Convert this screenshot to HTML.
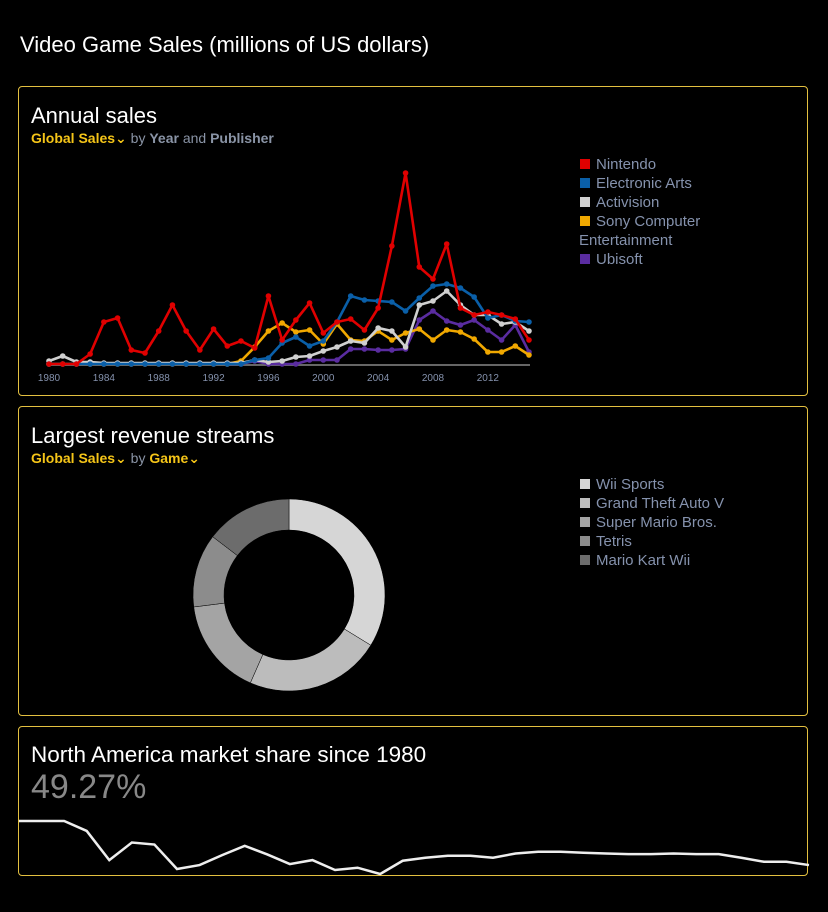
<!DOCTYPE html>
<html><head><meta charset="utf-8">
<style>
body{margin:0;background:#000;width:828px;height:912px;overflow:hidden;font-family:"Liberation Sans","DejaVu Sans",sans-serif;color:#fff;position:relative}
.title{position:absolute;left:20px;top:32px;font-size:22px}
.panel{position:absolute;left:18px;width:790px;border:1px solid #e3c040;border-radius:4px;box-sizing:border-box}
.h{position:absolute;left:12px;font-size:22px;color:#fff}
.sub{position:absolute;left:12px;font-size:14px;color:#8a94a6}
.sub b{color:#f5c518}
.sub i{font-style:normal;color:#8a94a6;font-weight:bold}
svg{position:absolute;left:0;top:0}
.leg text{font-size:15px;fill:#8592ad}
</style></head><body>
<div class="title">Video Game Sales (millions of US dollars)</div>

<div class="panel" style="top:86px;height:310px">
<div class="h" style="top:16px">Annual sales</div>
<div class="sub" style="top:43px"><b>Global Sales⌄</b> by <i>Year</i> and <i>Publisher</i></div>
</div>
<div class="panel" style="top:406px;height:310px">
<div class="h" style="top:16px">Largest revenue streams</div>
<div class="sub" style="top:43px"><b>Global Sales⌄</b> by <b>Game⌄</b></div>
</div>
<div class="panel" style="top:726px;height:150px;overflow:hidden">
<div class="h" style="top:15px;font-size:22.5px">North America market share since 1980</div>
<div style="position:absolute;left:12px;top:41px;font-size:34px;color:#888">49.27%</div>
</div>

<svg id="chart" width="828" height="912"></svg>
<script>
const years=[];for(let y=1980;y<=2015;y++)years.push(y);
const nintendo=[0,0,0,10,42,46,14,11,33,59,33,14,35,18,23,16,68,24,44,61,31,42,45,34,56,118,191,97,85,120,56,49,52,49,45,24];
const ea=[0,0,0,0,0,0,0,0,0,0,0,0,0,0,0,4,6,21,27,18,23,42,68,64,63,62,53,66,78,80,76,67,46,49,43,42];
const activision=[3,8,2,2,1,1,1,1,1,1,1,1,1,1,1,4,2,3,7,8,13,17,23,21,36,33,17,59,63,73,59,49,49,40,42,33];
const sony=[0,0,0,0,0,0,0,0,0,0,0,0,0,0,3,17,33,41,32,34,20,40,24,23,33,24,31,35,24,34,32,25,12,12,18,9];
const ubisoft=[0,0,0,0,0,0,0,0,0,0,0,0,0,0,0,3,0,0,0,4,4,4,15,15,14,14,15,44,53,43,39,44,34,24,39,12];
const seriesNames=["Nintendo","Electronic Arts","Activision","Sony Computer Entertainment","Ubisoft"];
const xTicks=[1980,1984,1988,1992,1996,2000,2004,2008,2012];
const games=["Wii Sports","Grand Theft Auto V","Super Mario Bros.","Tetris","Mario Kart Wii"];
const gameSales=[82.7,55.9,40.2,30.3,35.8];
const shareValues=[95,95,95,87.5,65.5,78.75,77.25,58.75,61.75,69.25,76.25,69.75,62.5,65.5,58,59.75,55,65,67.25,68.75,68.75,67.25,70.5,71.75,71.75,71,70.5,70,70,70.5,70,70,67.25,64.25,64.25,61.75];

const NS="http://www.w3.org/2000/svg",svg=document.getElementById('chart');
function mk(t,a,p){const e=document.createElementNS(NS,t);for(const k in a)e.setAttribute(k,a[k]);(p||svg).appendChild(e);return e;}
const xS=y=>49+(y-1980)*(529-49)/35, yS=v=>364-v;
mk('line',{x1:47,x2:530,y1:365,y2:365,stroke:'#666','stroke-width':2});
xTicks.forEach(t=>{const e=mk('text',{x:xS(t),y:381,'text-anchor':'middle','font-size':10,fill:'#8592ad'});e.textContent=t;

});
const data=[nintendo,ea,activision,sony,ubisoft],cols=['#e00000','#0a5fa8','#d0d0d0','#f0a800','#5a2ca0'];
[4,3,2,1,0].forEach(i=>{const g=mk('g',{});


mk('polyline',{points:data[i].map((v,j)=>xS(years[j])+','+yS(v)).join(' '),fill:'none',stroke:cols[i],'stroke-width':2.6,'stroke-linejoin':'round'},g);
data[i].forEach((v,j)=>mk('circle',{cx:xS(years[j]),cy:yS(v),r:2.8,fill:cols[i]},g));});
const leg=mk('g',{class:'leg'});


const legLines=[["Nintendo",0],["Electronic Arts",1],["Activision",2],["Sony Computer",3],["Entertainment",-1],["Ubisoft",4]];
legLines.forEach((l,k)=>{const y=169+k*19;if(l[1]>=0)mk('rect',{x:580,y:y-10,width:10,height:10,fill:cols[l[1]]},leg);
const t=mk('text',{x:l[1]>=0?596:579,y:y},leg);t.textContent=l[0];});
const cx=289,cy=595,R=96,r=65,tot=gameSales.reduce((a,b)=>a+b,0),gc=['#d6d6d6','#bcbcbc','#a4a4a4','#8c8c8c','#6c6c6c'];
let a0=0;
gameSales.forEach((v,i)=>{const a1=a0+v/tot*2*Math.PI,lg=(a1-a0)>Math.PI?1:0;
const p=(rad,a)=>(cx+rad*Math.sin(a))+','+(cy-rad*Math.cos(a));
const e=mk('path',{d:`M${p(R,a0)}A${R},${R} 0 ${lg} 1 ${p(R,a1)}L${p(r,a1)}A${r},${r} 0 ${lg} 0 ${p(r,a0)}Z`,fill:gc[i],stroke:'#000','stroke-width':0.5});


a0=a1;});
const leg2=mk('g',{class:'leg'});


games.forEach((g,k)=>{const y=489+k*19;mk('rect',{x:580,y:y-10,width:10,height:10,fill:gc[k]},leg2);const t=mk('text',{x:596,y:y},leg2);t.textContent=g;});
const sx=i=>19+i*(790/35), sy=v=>821+(95-v)*(53/40);
const sp=mk('polyline',{points:shareValues.map((v,i)=>sx(i)+','+sy(v)).join(' '),fill:'none',stroke:'#eee','stroke-width':2.5});


</script>
</body></html>
